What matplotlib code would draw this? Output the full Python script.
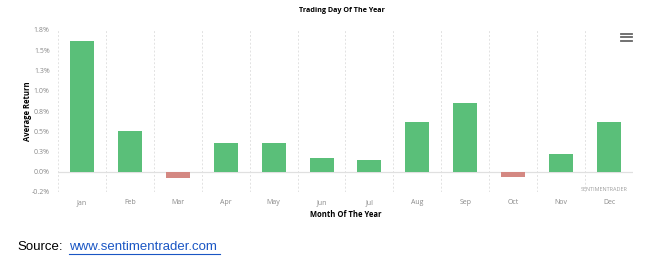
import matplotlib
matplotlib.use("Agg")
import matplotlib.pyplot as plt
from matplotlib.lines import Line2D
from matplotlib.ticker import FuncFormatter, MultipleLocator

months = ["Jan", "Feb", "Mar", "Apr", "May", "Jun", "Jul", "Aug", "Sep", "Oct", "Nov", "Dec"]
avg_return = [1.62, 0.50, -0.08, 0.36, 0.35, 0.17, 0.15, 0.62, 0.85, -0.06, 0.22, 0.61]

title = "Trading Day Of The Year"
xlabel = "Month Of The Year"
ylabel = "Average Return"
source_label = "Source:"
source_link = "www.sentimentrader.com"

green = "#5abf79"
red = "#d48882"

plt.rcParams["font.family"] = ["Open Sans", "DejaVu Sans"]

fig = plt.figure(figsize=(6.5, 2.6), dpi=100)
ax = fig.add_axes([58 / 650, 1 - 192 / 260, 575 / 650, 162 / 260])

x = list(range(len(months)))
colors = [green if v >= 0 else red for v in avg_return]
ax.bar(x, avg_return, width=0.5, color=colors, zorder=3)

ax.set_xlim(-0.5, len(months) - 0.5)
ax.set_ylim(-0.25, 1.75)
ax.yaxis.set_major_locator(MultipleLocator(0.25))
ax.yaxis.set_major_formatter(FuncFormatter(lambda v, p: "%.1f%%" % (round(v * 4) / 4 + 1e-9)))
ax.set_xticks(x)
ax.set_xticklabels(months)

# dashed separators between categories
for b in range(len(months) + 1):
    ax.axvline(b - 0.5, color="#e2e2e2", lw=0.7, ls=(0, (2, 2)), zorder=1)
ax.axhline(0, color="#e0e0e0", lw=0.9, zorder=2)

for s in ax.spines.values():
    s.set_visible(False)
ax.tick_params(axis="both", length=0, labelsize=5, labelcolor="#8a8a8a")
ax.tick_params(axis="x", pad=5)
ax.tick_params(axis="y", pad=6)

ax.set_xlabel(xlabel, fontsize=5.5, fontweight="bold", labelpad=3)
ax.set_ylabel(ylabel, fontsize=5.5, fontweight="bold", labelpad=0)
fig.text(342 / 650, 1 - 11 / 260, title, ha="center", va="center", fontsize=5.2, fontweight="bold")

ax.text(0.99, 0.0, "SENTIMENTRADER", transform=ax.transAxes, ha="right", va="bottom",
        fontsize=4, color="#a0a0a0")

# menu icon
for yy in (33.5, 37, 40.5):
    fig.add_artist(Line2D([621 / 650, 632 / 650], [1 - yy / 260, 1 - yy / 260],
                          color="#666666", lw=1.3, transform=fig.transFigure))

fig.text(17 / 650, 1 - 247 / 260, source_label, ha="left", va="center", fontsize=9.5,
         family="Liberation Sans", color="black")
fig.text(69 / 650, 1 - 247 / 260, source_link, ha="left", va="center", fontsize=9.5,
         family="Liberation Sans", color="#1a56c4")
fig.add_artist(Line2D([69 / 650, 220 / 650], [1 - 254 / 260, 1 - 254 / 260],
                      color="#1a56c4", lw=0.8, transform=fig.transFigure))

fig.savefig("out.png", dpi=100)
